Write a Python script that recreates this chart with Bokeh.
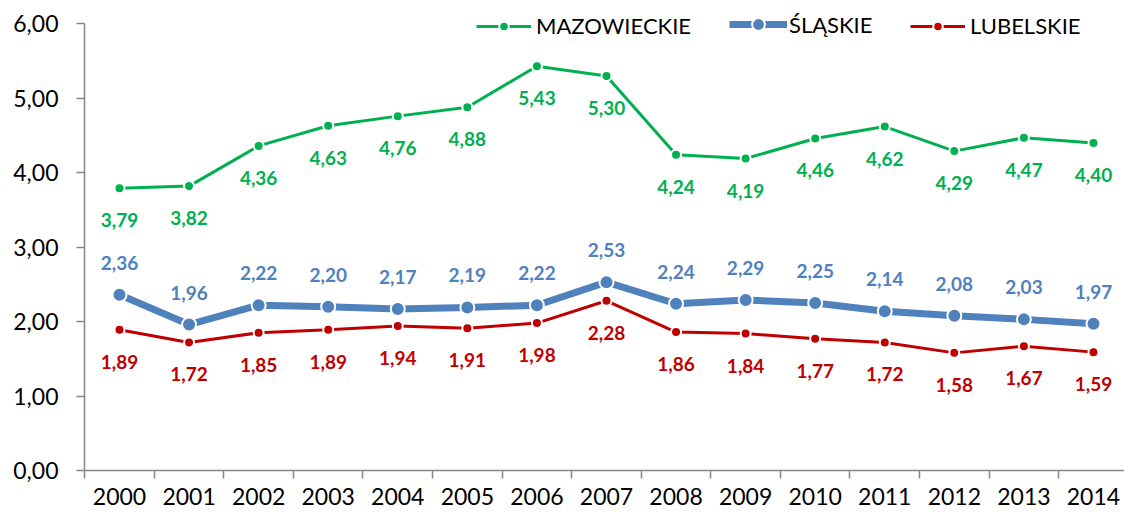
from bokeh.plotting import figure
from bokeh.models import (ColumnDataSource, Range1d, FixedTicker, LabelSet, Legend, LegendItem)
from bokeh.core.properties import value
from bokeh.embed import file_html
from bokeh.resources import INLINE

years = ["2000", "2001", "2002", "2003", "2004", "2005", "2006", "2007",
         "2008", "2009", "2010", "2011", "2012", "2013", "2014"]
mazowieckie = [3.79, 3.82, 4.36, 4.63, 4.76, 4.88, 5.43, 5.30, 4.24, 4.19, 4.46, 4.62, 4.29, 4.47, 4.40]
slaskie = [2.36, 1.96, 2.22, 2.20, 2.17, 2.19, 2.22, 2.53, 2.24, 2.29, 2.25, 2.14, 2.08, 2.03, 1.97]
lubelskie = [1.89, 1.72, 1.85, 1.89, 1.94, 1.91, 1.98, 2.28, 1.86, 1.84, 1.77, 1.72, 1.58, 1.67, 1.59]
y_ticks = [0, 1, 2, 3, 4, 5, 6]

FONT = "Lato"
GREEN = "#00B050"
BLUE = "#4F81BD"
RED = "#C00000"
AXIS = "#868686"

xs = list(range(len(years)))


def fmt(v):
    return f"{v:.2f}".replace(".", ",")


p = figure(width=1124, height=514, output_backend="svg", toolbar_location=None,
           x_range=Range1d(-0.503, 14.446), y_range=Range1d(0, 6.152),
           min_border_left=84, min_border_right=0, min_border_top=12, min_border_bottom=44)
p.outline_line_color = None
p.xgrid.visible = False
p.ygrid.visible = False
p.background_fill_color = "white"

# name, values, color, line width, marker size, label offset, legend x, glyph width, glyph height, standoff, legend y shift
series = [
    ("MAZOWIECKIE", mazowieckie, GREEN, 3, 10, -32, 392, 55, 24, 5, -2),
    ("ŚLĄSKIE", slaskie, BLUE, 7, 14, 32, 645, 58, 32, 2, 1),
    ("LUBELSKIE", lubelskie, RED, 3, 10, -32, 826, 55, 24, 5, -2),
]

for name, vals, color, lw, ms, off, lx, gw, gh, so, dy in series:
    src = ColumnDataSource(dict(x=xs, y=vals, lab=[fmt(v) for v in vals]))
    r1 = p.line("x", "y", source=src, line_color=color, line_width=lw)
    r2 = p.scatter("x", "y", source=src, size=ms, fill_color=color,
                   line_color="white", line_width=2)
    labels = LabelSet(x="x", y="y", text="lab", source=src, y_offset=off,
                      text_align="center", text_baseline="middle",
                      text_color=color, text_font=value(FONT), text_font_size="19px",
                      text_font_style="bold")
    p.add_layout(labels)
    legend = Legend(items=[LegendItem(label=name, renderers=[r1, r2])],
                    location=(lx, 445 - gh / 2 + dy),
                    glyph_width=gw, glyph_height=gh, label_height=gh, label_standoff=so,
                    padding=0, margin=0, border_line_color=None,
                    background_fill_alpha=0, label_text_font=FONT,
                    label_text_font_size="22px", label_text_color="black")
    p.add_layout(legend, "center")

# x axis
p.xaxis.ticker = FixedTicker(ticks=xs, minor_ticks=[i - 0.5 for i in range(len(years) + 1)])
p.xaxis.major_label_overrides = {i: y for i, y in enumerate(years)}
p.xaxis.major_tick_out = 0
p.xaxis.major_tick_in = 0
p.xaxis.minor_tick_out = 8
p.xaxis.minor_tick_in = 0
p.xaxis.minor_tick_line_color = AXIS
p.xaxis.minor_tick_line_width = 1.5
p.xaxis.axis_line_color = AXIS
p.xaxis.axis_line_width = 1.5
p.xaxis.major_label_text_font = FONT
p.xaxis.major_label_text_font_size = "23px"
p.xaxis.major_label_text_color = "black"
p.xaxis.major_label_standoff = 9

# y axis
p.yaxis.ticker = FixedTicker(ticks=y_ticks, minor_ticks=[])
p.yaxis.bounds = (0, 6)
p.yaxis.major_label_overrides = {t: fmt(t) for t in y_ticks}
p.yaxis.major_tick_out = 8
p.yaxis.major_tick_in = 0
p.yaxis.major_tick_line_color = AXIS
p.yaxis.major_tick_line_width = 1.5
p.yaxis.axis_line_color = AXIS
p.yaxis.axis_line_width = 1.5
p.yaxis.major_label_text_font = FONT
p.yaxis.major_label_text_font_size = "23px"
p.yaxis.major_label_text_color = "black"
p.yaxis.major_label_standoff = 18

open("out.html", "w").write(file_html(p, INLINE))
